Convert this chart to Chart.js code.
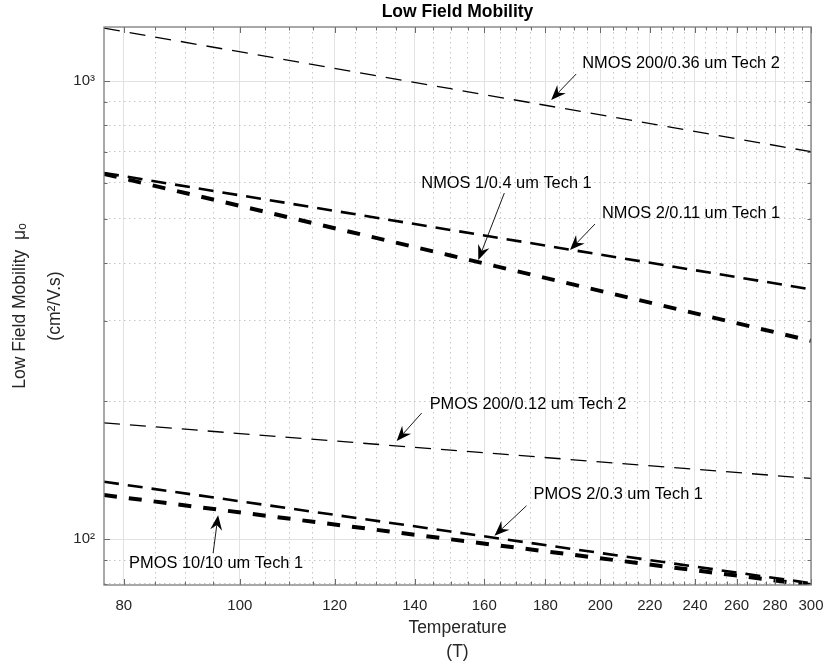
<!DOCTYPE html>
<html>
<head>
<meta charset="utf-8">
<script src="https://cdn.jsdelivr.net/npm/chart.js@4/dist/chart.umd.min.js"></script>
<style>
  html, body { margin: 0; padding: 0; background: #fff; }
  #wrap { width: 826px; height: 667px; }
</style>
</head>
<body>
<div id="wrap"><canvas id="mobilityChart" width="826" height="667"></canvas></div>
<script>
// temperatures where the curves were read (K)
const temps = [77, 150, 300];

// low field mobility (cm^2/V.s)
const nmos200Tech2 = [1305, 962, 701];
const nmos2Tech1 = [630, 473, 351];
const nmos1Tech1 = [627, 416, 271];
const pmos200Tech2 = [179.4, 156.4, 135.7];
const pmos2Tech1 = [133.4, 103.9, 80.1];
const pmos10Tech1 = [124.8, 99.9, 79.4];

// axis ticks
const xLabels = [80, 100, 120, 140, 160, 180, 200, 220, 240, 260, 280, 300];
const yLabels = [100, 1000];
const yMinor = [80, 90, 200, 300, 400, 500, 600, 700, 800, 900];

// annotation texts and the (T, mu) point each arrow points to
const noteText = [
    'NMOS 200/0.36 um Tech 2',
    'NMOS 1/0.4 um Tech 1',
    'NMOS 2/0.11 um Tech 1',
    'PMOS 200/0.12 um Tech 2',
    'PMOS 2/0.3 um Tech 1',
    'PMOS 10/10 um Tech 1'
];
const noteTip = [[182, 909], [158.2, 406.6], [188.7, 427.6], [135.2, 163.7], [163.2, 101.7], [95.9, 112.8]];

const FONT = "'Liberation Sans', Arial, Helvetica, sans-serif";

function series(values) {
    return temps.map((t, i) => ({ x: t, y: values[i] }));
}

const thin = { borderWidth: 1.3, borderDash: [16, 10] };
const medium = { borderWidth: 2.6, borderDash: [15, 9] };
const thick = { borderWidth: 4, borderDash: [13, 12] };

function drawArrow(ctx, x0, y0, x1, y1) {
    const ang = Math.atan2(y1 - y0, x1 - x0);
    const L = 15, W = 6, N = 10;
    ctx.beginPath();
    ctx.moveTo(x0, y0);
    ctx.lineTo(x1 - N * Math.cos(ang), y1 - N * Math.sin(ang));
    ctx.lineWidth = 0.9;
    ctx.stroke();
    ctx.save();
    ctx.translate(x1, y1);
    ctx.rotate(ang);
    ctx.beginPath();
    ctx.moveTo(0, 0);
    ctx.lineTo(-L, -W);
    ctx.lineTo(-N, 0);
    ctx.lineTo(-L, W);
    ctx.closePath();
    ctx.fill();
    ctx.restore();
}

// arrow tail and label offsets from the tip, in pixels
const noteLayout = [
    { tail: [25, -26], label: [31, -37] },
    { tail: [26, -67], label: [-57, -77] },
    { tail: [25, -26], label: [32, -37] },
    { tail: [25, -28], label: [33, -37] },
    { tail: [32, -30], label: [39, -41] },
    { tail: [-5, 38], label: [-89, 48] }
];

const overlay = {
    id: 'overlay',
    afterDatasetsDraw(chart) {
        const { ctx, chartArea: a, scales: { x, y } } = chart;
        ctx.save();

        // inward ticks on all four sides
        ctx.strokeStyle = '#6a6a6a';
        ctx.lineWidth = 1;
        ctx.beginPath();
        x.ticks.forEach(t => {
            const px = Math.round(x.getPixelForValue(t.value)) + 0.5;
            const len = t.major ? 6 : 3.5;
            ctx.moveTo(px, a.bottom); ctx.lineTo(px, a.bottom - len);
            ctx.moveTo(px, a.top); ctx.lineTo(px, a.top + len);
        });
        y.ticks.forEach(t => {
            const py = Math.round(y.getPixelForValue(t.value)) + 0.5;
            const len = t.major ? 6 : 3.5;
            ctx.moveTo(a.left, py); ctx.lineTo(a.left + len, py);
            ctx.moveTo(a.right, py); ctx.lineTo(a.right - len, py);
        });
        ctx.stroke();

        ctx.strokeStyle = '#7a7a7a';
        ctx.lineWidth = 1.3;
        ctx.strokeRect(a.left, a.top, a.right - a.left, a.bottom - a.top);

        // annotations
        ctx.fillStyle = '#000';
        ctx.strokeStyle = '#000';
        ctx.font = '16.4px ' + FONT;
        ctx.textAlign = 'left';
        ctx.textBaseline = 'middle';
        noteText.forEach((txt, i) => {
            const tx = x.getPixelForValue(noteTip[i][0]);
            const ty = y.getPixelForValue(noteTip[i][1]);
            const lay = noteLayout[i];
            drawArrow(ctx, tx + lay.tail[0], ty + lay.tail[1], tx, ty);
            ctx.fillText(txt, tx + lay.label[0], ty + lay.label[1]);
        });
        ctx.restore();
    }
};

new Chart(document.getElementById('mobilityChart').getContext('2d'), {
    type: 'line',
    data: {
        datasets: [
            { label: noteText[0], data: series(nmos200Tech2), ...thin },
            { label: noteText[2], data: series(nmos2Tech1), ...medium },
            { label: noteText[1], data: series(nmos1Tech1), ...thick },
            { label: noteText[3], data: series(pmos200Tech2), ...thin },
            { label: noteText[4], data: series(pmos2Tech1), ...medium },
            { label: noteText[5], data: series(pmos10Tech1), ...thick }
        ].map(d => Object.assign(d, {
            borderColor: '#000',
            backgroundColor: '#000',
            pointRadius: 0,
            fill: false,
            tension: 0
        }))
    },
    options: {
        responsive: false,
        animation: false,
        devicePixelRatio: 1,
        layout: { padding: { left: 0, right: 15, top: 0, bottom: 0 } },
        plugins: {
            legend: { display: false },
            tooltip: { enabled: false },
            title: {
                display: true,
                text: 'Low Field Mobility',
                fullSize: false,
                color: '#000',
                font: { family: FONT, size: 17.5, weight: 'bold', lineHeight: 1.2 },
                padding: { top: 2, bottom: 4 }
            }
        },
        scales: {
            x: {
                type: 'logarithmic',
                min: 77,
                max: 300,
                afterBuildTicks: scale => {
                    const ticks = [];
                    for (let v = 80; v <= 300; v += 5) {
                        ticks.push({ value: v, major: xLabels.includes(v) });
                    }
                    scale.ticks = ticks;
                },
                afterFit: scale => {
                    scale.height = 82;
                    scale.paddingLeft = 0;
                    scale.paddingRight = 0;
                },
                ticks: {
                    autoSkip: false,
                    maxRotation: 0,
                    padding: 12,
                    color: '#262626',
                    font: { family: FONT, size: 15 },
                    callback: v => xLabels.includes(v) ? String(v) : ''
                },
                grid: {
                    drawTicks: false,
                    lineWidth: 1,
                    color: ctx => ctx.tick && ctx.tick.major ? '#e2e2e2' : '#c6c6c6'
                },
                border: {
                    display: false,
                    dash: ctx => ctx.tick && !ctx.tick.major ? [1.5, 3.5] : []
                },
                title: {
                    display: true,
                    text: ['Temperature', '(T)'],
                    color: '#262626',
                    font: { family: FONT, size: 17.5, lineHeight: 1.37 },
                    padding: { top: 0, bottom: 3 }
                }
            },
            y: {
                type: 'logarithmic',
                min: 79.4,
                max: 1312,
                afterBuildTicks: scale => {
                    const vals = yMinor.concat(yLabels).sort((p, q) => p - q);
                    scale.ticks = vals.map(v => ({ value: v, major: yLabels.includes(v) }));
                },
                afterFit: scale => {
                    scale.width = 104;
                    scale.paddingTop = 0;
                    scale.paddingBottom = 0;
                },
                ticks: {
                    autoSkip: false,
                    padding: 9,
                    color: '#262626',
                    font: { family: FONT, size: 15 },
                    callback: v => v === 100 ? '10\u00B2' : (v === 1000 ? '10\u00B3' : '')
                },
                grid: {
                    drawTicks: false,
                    lineWidth: 1,
                    color: ctx => ctx.tick && ctx.tick.major ? '#e2e2e2' : '#c6c6c6'
                },
                border: {
                    display: false,
                    dash: ctx => ctx.tick && !ctx.tick.major ? [1.5, 3.5] : []
                },
                title: {
                    display: true,
                    text: ['Low Field Mobility  \u03BC\u2092', '(cm\u00B2/V.s)'],
                    color: '#262626',
                    font: { family: FONT, size: 17.5, lineHeight: 2 },
                    padding: { top: 2.5, bottom: 0 }
                }
            }
        }
    },
    plugins: [overlay]
});
</script>
</body>
</html>
